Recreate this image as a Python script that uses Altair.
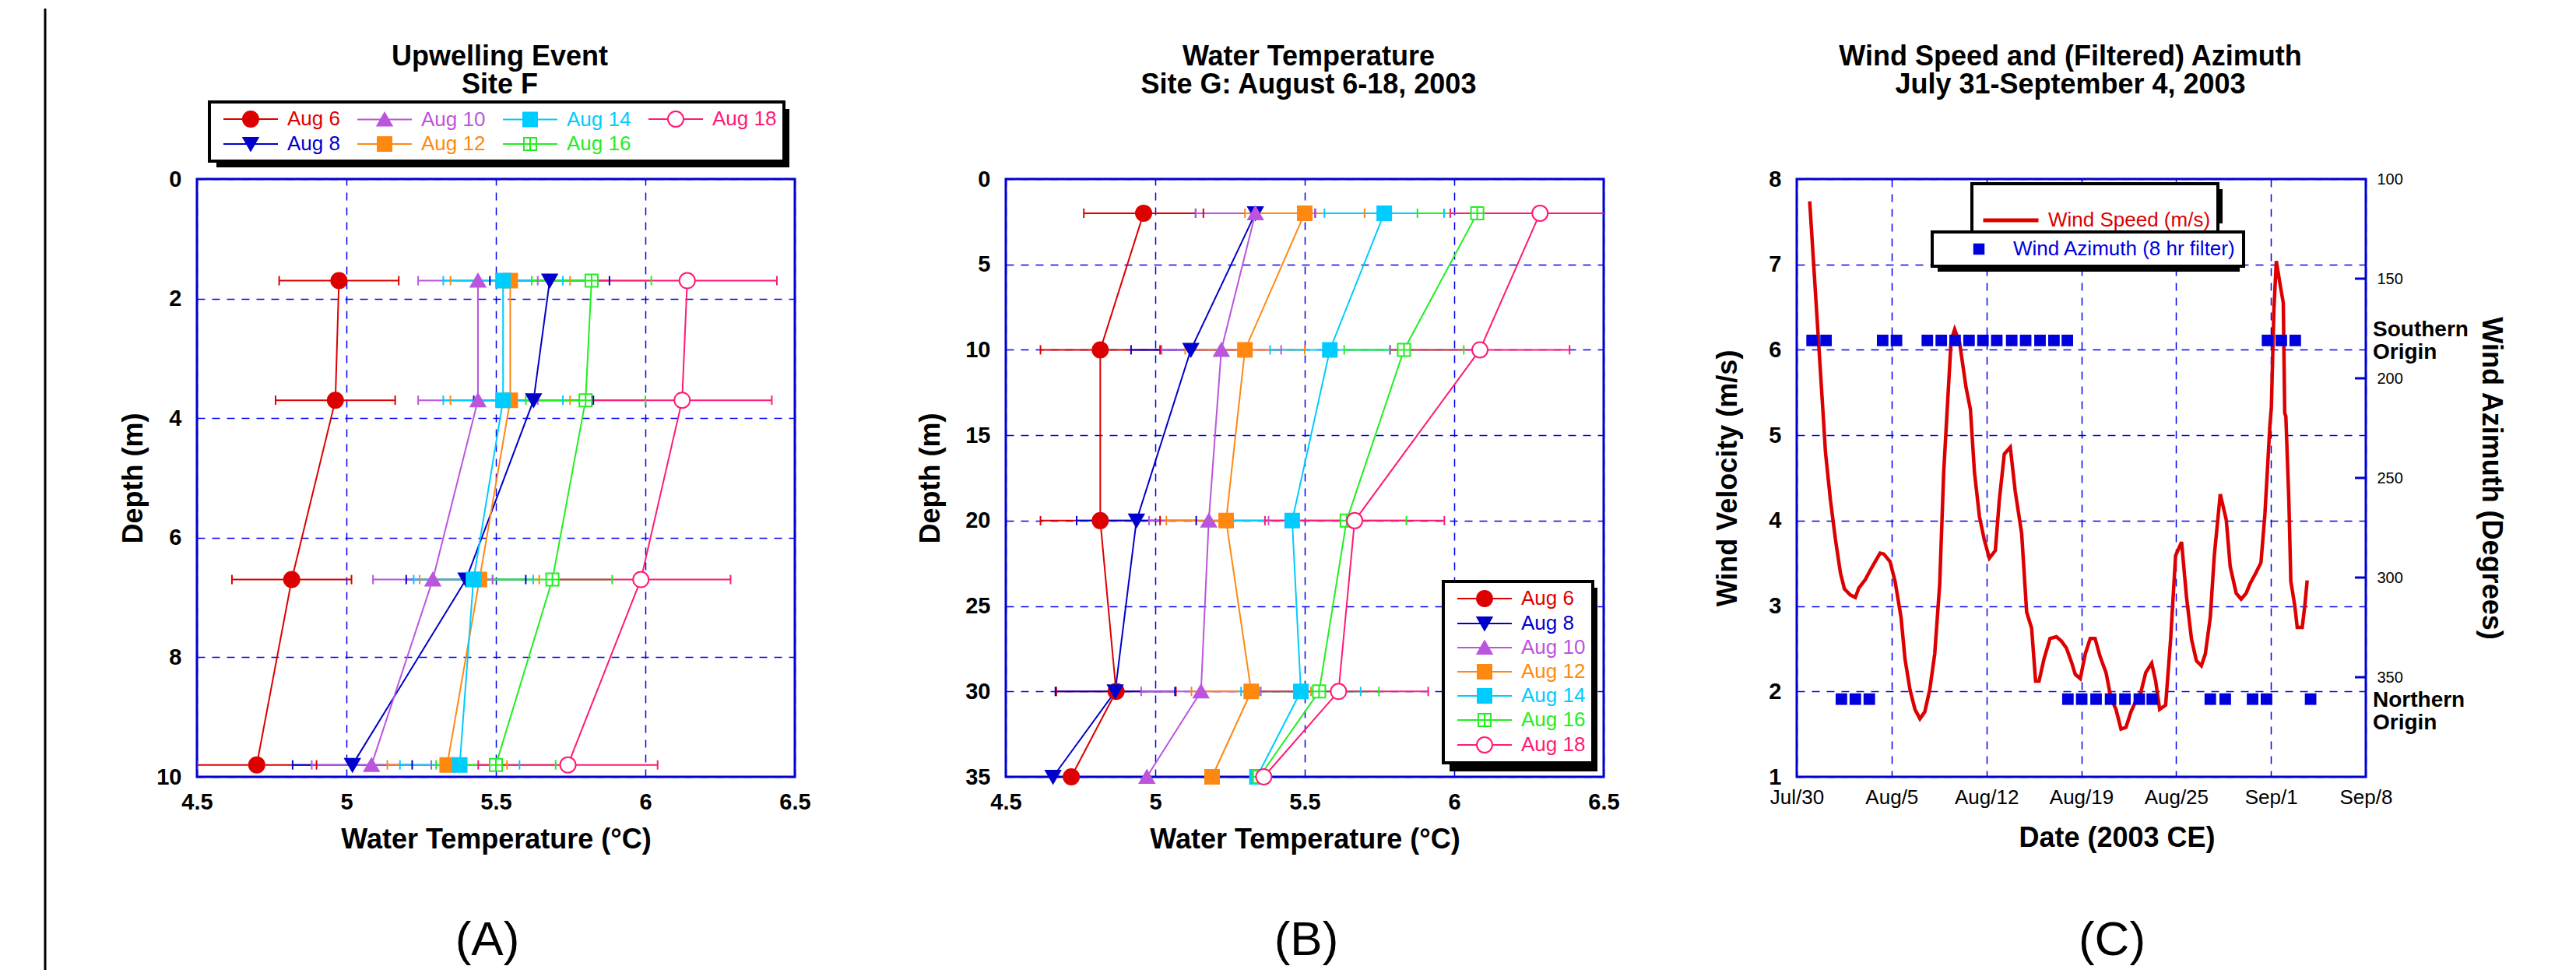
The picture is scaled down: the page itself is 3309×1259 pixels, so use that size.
import json
import altair as alt
import pandas as pd

FONT = "Liberation Sans, Arial, Helvetica, sans-serif"

# ---------------- series identity ----------------
dates = ["Aug 6", "Aug 8", "Aug 10", "Aug 12", "Aug 14", "Aug 16", "Aug 18"]
series_colors = ["#dd0000", "#0000cc", "#bb55dd", "#ff8811", "#00ccff", "#22ee22", "#ff1a75"]
series_fills = ["#dd0000", "#0000cc", "#bb55dd", "#ff8811", "#00ccff", "#ffffff", "#ffffff"]
series_err = [0.2, 0.2, 0.2, 0.2, 0.2, 0.2, 0.3]
marker_paths = [
    "circle",
    "M-0.95,-0.8H0.95L0,0.85Z",
    "M0,-0.85L0.95,0.8H-0.95Z",
    "M-0.9,-0.9H0.9V0.9H-0.9Z",
    "M-0.9,-0.9H0.9V0.9H-0.9Z",
    "M-0.8,-0.8H0.8V0.8H-0.8ZM0,-0.8V0.8M-0.8,0H0.8",
    "circle",
]
legend_paths = [
    "M-3.5,0H-1M1,0H3.5M1,0A1,1,0,1,1,-1,0A1,1,0,1,1,1,0Z",
    "M-3.5,0H3.5M-0.95,-0.8H0.95L0,0.85Z",
    "M-3.5,0H3.5M0,-0.85L0.95,0.8H-0.95Z",
    "M-3.5,0H3.5M-0.9,-0.9H0.9V0.9H-0.9Z",
    "M-3.5,0H3.5M-0.9,-0.9H0.9V0.9H-0.9Z",
    "M-3.5,0H-0.8M0.8,0H3.5M-0.8,-0.8H0.8V0.8H-0.8ZM0,-0.8V0.8M-0.8,0H0.8",
    "M-3.5,0H-1M1,0H3.5M1,0A1,1,0,1,1,-1,0A1,1,0,1,1,1,0Z",
]

# ---------------- Panel A : Site F ----------------
depth_A = [1.7, 3.7, 6.7, 9.8]
A_aug6 = [4.975, 4.963, 4.817, 4.70]
A_aug8 = [5.68, 5.626, 5.40, 5.02]
A_aug10 = [5.44, 5.44, 5.289, 5.084]
A_aug12 = [5.548, 5.548, 5.445, 5.337]
A_aug14 = [5.524, 5.524, 5.425, 5.379]
A_aug16 = [5.82, 5.80, 5.689, 5.50]
A_aug18 = [6.14, 6.123, 5.985, 5.741]
legend_order_A = ["Aug 6", "Aug 10", "Aug 14", "Aug 18", "Aug 8", "Aug 12", "Aug 16"]

# ---------------- Panel B : Site G ----------------
depth_B = [2, 10, 20, 30, 35]
B_aug6 = [4.961, 4.816, 4.816, 4.869, 4.719]
B_aug8 = [5.335, 5.119, 4.937, 4.866, 4.658]
B_aug10 = [5.335, 5.221, 5.179, 5.153, 4.972]
B_aug12 = [5.50, 5.30, 5.237, 5.321, 5.19]
B_aug14 = [5.766, 5.584, 5.458, 5.487, 5.34]
B_aug16 = [6.077, 5.832, 5.64, 5.548, 5.348]
B_aug18 = [6.287, 6.086, 5.667, 5.613, 5.363]
errbar_max_depth_B = 30

temp_ticks = [4.5, 5, 5.5, 6, 6.5]
depth_ticks_A = [0, 2, 4, 6, 8, 10]
depth_ticks_B = [0, 5, 10, 15, 20, 25, 30, 35]

# ---------------- Panel C : wind ----------------
wind_day = [0.91, 1.85, 2.02, 2.37, 2.72, 3.07, 3.35, 3.77, 4.12, 4.36, 4.82, 5.17, 5.51, 5.86,
            6.11, 6.56, 6.91, 7.33, 7.61, 7.96, 8.31, 8.66, 9.00, 9.35, 9.70, 10.05, 10.33,
            10.85, 11.10, 11.45, 11.90, 12.21, 12.49, 12.84, 13.19, 13.54, 13.96, 14.24, 14.59,
            15.01, 15.36, 15.81, 16.16, 16.51, 16.79, 17.03, 17.38, 17.80, 18.25, 18.60, 18.95,
            19.30, 19.58, 19.93, 20.28, 20.63, 20.97, 21.32, 21.74, 22.09, 22.44, 22.79, 23.14,
            23.49, 23.84, 24.19, 24.53, 24.95, 25.23, 25.51, 25.93, 26.28, 26.63, 27.05, 27.40,
            27.75, 28.09, 28.44, 28.72, 29.07, 29.35, 29.77, 30.19, 30.47, 30.89, 31.24, 31.59,
            31.86, 32.28, 32.63, 32.91, 33.26, 33.36, 33.54, 33.71, 33.96, 34.20, 34.30, 34.38,
            34.59, 34.73, 35.01, 35.18, 35.53, 35.71, 35.88]
wind_speed = [7.74, 5.26, 4.80, 4.24, 3.78, 3.39, 3.20, 3.13, 3.10, 3.21, 3.31, 3.42, 3.52, 3.62,
              3.61, 3.52, 3.29, 2.87, 2.38, 2.02, 1.79, 1.68, 1.76, 2.02, 2.44, 3.26, 4.57,
              6.11, 6.24, 6.08, 5.56, 5.30, 4.57, 4.05, 3.77, 3.56, 3.65, 4.24, 4.78,
              4.86, 4.34, 3.85, 2.93, 2.74, 2.12, 2.12, 2.38, 2.62, 2.64, 2.59, 2.51,
              2.35, 2.20, 2.15, 2.44, 2.62, 2.62, 2.41, 2.22, 1.92, 1.79, 1.56, 1.58,
              1.76, 1.89, 1.99, 2.22, 2.33, 2.12, 1.79, 1.84, 2.61, 3.59, 3.75, 3.10,
              2.61, 2.36, 2.30, 2.44, 2.87, 3.59, 4.31, 4.01, 3.46, 3.15, 3.08, 3.15,
              3.26, 3.39, 3.51, 4.08, 5.12, 5.32, 6.47, 7.04, 6.78, 6.55, 5.26, 5.22,
              4.24, 3.29, 3.00, 2.75, 2.75, 3.00, 3.30]
az_day = [1.08, 2.06, 6.04, 7.01, 9.18, 10.16, 11.13, 12.11, 13.09, 14.06, 15.11, 16.09, 17.10,
          18.08, 19.02, 33.09, 34.06, 35.04,
          3.14, 4.12, 5.10, 19.06, 20.03, 21.04, 22.06, 23.07, 24.08, 24.99, 29.07, 30.12,
          32.04, 33.02, 36.12]
az_deg = [181, 181, 181, 181, 181, 181, 181, 181, 181, 181, 181, 181, 181,
          181, 181, 181, 181, 181,
          361, 361, 361, 361, 361, 361, 361, 361, 361, 361, 361, 361,
          361, 361, 361]
date_tick_days = [0, 6.667, 13.333, 20, 26.667, 33.333, 40]
date_tick_labels = ["Jul/30", "Aug/5", "Aug/12", "Aug/19", "Aug/25", "Sep/1", "Sep/8"]
speed_ticks = [1, 2, 3, 4, 5, 6, 7, 8]
az_ticks = [100, 150, 200, 250, 300, 350]
az_inner_ticks = [150, 200, 250, 300, 350]
origin_labels = ["Southern\nOrigin", "Northern\nOrigin"]
origin_label_deg = [179, 365]
speed_name = "Wind Speed (m/s)"
az_name = "Wind Azimuth (8 hr filter)"

titles = {
    "A": ["Upwelling Event", "Site F"],
    "B": ["Water Temperature", "Site G: August 6-18, 2003"],
    "C": ["Wind Speed and (Filtered) Azimuth", "July 31-September 4, 2003"],
}

W, H, WC = 768, 768, 731
BLUE = "#0000cc"
ONE = alt.Data(values=[{}])


def lookup_expr(values):
    return "%s[indexof(%s, datum.value)]" % (json.dumps(values), json.dumps(dates))


def profile_df(depths, series_vals):
    rows = []
    for name, vals, e in zip(dates, series_vals, series_err):
        for d, t in zip(depths, vals):
            rows.append({"date": name, "depth": d, "temp": t,
                         "lo": round(t - e, 4), "hi": round(t + e, 4)})
    return pd.DataFrame(rows)


def text_mark(text, x, y, size, weight="bold", align="center", baseline="alphabetic"):
    return alt.Chart(ONE).mark_text(
        text=text, font=FONT, fontSize=size, fontWeight=weight, align=align,
        baseline=baseline, lineHeight=size, color="black"
    ).encode(x=alt.value(x), y=alt.value(y))


def shadow(x0, y0, x1, y1):
    return alt.Chart(ONE).mark_rect(color="black").encode(
        x=alt.value(x0), x2=alt.value(x1), y=alt.value(y0), y2=alt.value(y1))


def series_legend(x, y, columns):
    if columns > 1:
        kw = dict(columns=columns, direction="horizontal", columnPadding=13)
    else:
        kw = dict(direction="vertical")
    return alt.Legend(
        title=None, orient="none", legendX=x, legendY=y,
        symbolType=alt.ExprRef(expr=lookup_expr(legend_paths)),
        symbolStrokeColor=alt.ExprRef(expr=lookup_expr(series_colors)),
        symbolSize=400, symbolStrokeWidth=2, symbolOffset=31, labelOffset=34,
        labelColor=alt.ExprRef(expr=lookup_expr(series_colors)), labelLimit=300,
        labelFontSize=26, labelFont=FONT, padding=9, rowPadding=5, **kw)


def profile_panel(df, ydom, yticks, order, legend, ytitle_pad, title_lines, label, label_x,
                  shadow_box, err_max_depth=None, extra=()):
    xs = alt.Scale(domain=[4.5, 6.5], nice=False, zero=False)
    ys = alt.Scale(domain=ydom, reverse=True, nice=False, zero=False)
    xax = alt.Axis(values=temp_ticks, format="~g", title="Water Temperature (°C)",
                   labelFontSize=29, labelFontWeight="bold", labelPadding=18,
                   labelFlush=False, labelOverlap=False, titleFontSize=36,
                   titleFontWeight="bold", titlePadding=16, grid=True)
    yax = alt.Axis(values=yticks, format="d", title="Depth (m)", labelFontSize=29,
                   labelFontWeight="bold", labelPadding=20, labelFlush=False,
                   labelOverlap=False, titleFontSize=36, titleFontWeight="bold",
                   titlePadding=ytitle_pad, grid=True)
    st = alt.Stroke("date:N", scale=alt.Scale(domain=order, range=[series_colors[dates.index(d)] for d in order]),
                    legend=legend)
    fi = alt.Fill("date:N", scale=alt.Scale(domain=order, range=[series_fills[dates.index(d)] for d in order]),
                  legend=legend)
    base = alt.Chart(df)
    ebase = base if err_max_depth is None else base.transform_filter(alt.datum.depth <= err_max_depth)
    bars = ebase.mark_rule(strokeWidth=2, clip=True).encode(
        x=alt.X("lo:Q", scale=xs, axis=xax), x2="hi:Q",
        y=alt.Y("depth:Q", scale=ys, axis=yax), stroke=st)
    cap_lo = ebase.mark_rule(strokeWidth=2, clip=True, yOffset=-6, y2Offset=6).encode(
        x=alt.X("lo:Q", scale=xs, axis=xax), y=alt.Y("depth:Q", scale=ys, axis=yax),
        y2="depth:Q", stroke=st)
    cap_hi = ebase.mark_rule(strokeWidth=2, clip=True, yOffset=-6, y2Offset=6).encode(
        x=alt.X("hi:Q", scale=xs, axis=xax), y=alt.Y("depth:Q", scale=ys, axis=yax),
        y2="depth:Q", stroke=st)
    lines = base.mark_line(strokeWidth=2).encode(
        x=alt.X("temp:Q", scale=xs, axis=xax), y=alt.Y("depth:Q", scale=ys, axis=yax),
        stroke=st, order=alt.Order("depth:Q"))
    pts = []
    for name, path in zip(dates, marker_paths):
        pts.append(base.transform_filter(alt.datum.date == name).mark_point(
            shape=path, size=400, filled=True, opacity=1, strokeWidth=2).encode(
            x=alt.X("temp:Q", scale=xs, axis=xax), y=alt.Y("depth:Q", scale=ys, axis=yax),
            stroke=st, fill=fi))
    extras = [
        shadow(*shadow_box),
        text_mark(title_lines, W / 2 + 5, -146, 36),
        text_mark(label, label_x, 978, 62, weight="normal", baseline="middle"),
    ] + list(extra)
    return alt.layer(bars, cap_lo, cap_hi, lines, *pts, *extras).properties(width=W, height=H)


dfA = profile_df(depth_A, [A_aug6, A_aug8, A_aug10, A_aug12, A_aug14, A_aug16, A_aug18])
dfB = profile_df(depth_B, [B_aug6, B_aug8, B_aug10, B_aug12, B_aug14, B_aug16, B_aug18])

frame_line = alt.Chart(ONE).mark_rule(color="black", strokeWidth=3).encode(
    x=alt.value(-195), y=alt.value(-219), y2=alt.value(1016))
panelA = profile_panel(dfA, [0, 10], depth_ticks_A, legend_order_A, series_legend(16, -99, 4),
                       10, titles["A"], "(A)", 373, (25, -90, 761, -15), extra=[frame_line])

# invisible spacer keeping the gap between panels (A) and (B) as in the original layout
spacerB = alt.Chart(ONE).mark_rule(opacity=0).encode(
    x=alt.value(-129), y=alt.value(300), y2=alt.value(310))
panelB = profile_panel(dfB, [0, 35], depth_ticks_B, dates, series_legend(562, 517, 1),
                       25, titles["B"], "(B)", 386, (570, 525, 760, 761),
                       err_max_depth=errbar_max_depth_B, extra=[spacerB])

# ---------------- Panel C ----------------
dfW = pd.DataFrame({"day": wind_day, "speed": wind_speed, "series": speed_name})
dfZ = pd.DataFrame({"day": az_day, "deg": az_deg, "series": az_name})
dfT = pd.DataFrame({"deg": az_inner_ticks})
dfO = pd.DataFrame({"deg": origin_label_deg, "label": origin_labels})

xsC = alt.Scale(domain=[0, 40], nice=False, zero=False)
date_axis = alt.Axis(values=date_tick_days,
                     labelExpr="%s[round(datum.value * 6 / 40)]" % json.dumps(date_tick_labels),
                     title="Date (2003 CE)", labelFontSize=26, labelFontWeight="normal",
                     labelPadding=13, labelFlush=False, labelOverlap=False, titleFontSize=36,
                     titleFontWeight="bold", titlePadding=22, titleX=411, grid=True)
speed_axis = alt.Axis(values=speed_ticks, title="Wind Velocity (m/s)", labelFontSize=29,
                      labelFontWeight="bold", labelPadding=20, labelFlush=False,
                      labelOverlap=False, titleFontSize=36, titleFontWeight="bold",
                      titlePadding=33, grid=True)
az_scale = alt.Scale(domain=[100, 400], reverse=True, nice=False, zero=False)
az_axis = alt.Axis(orient="right", values=az_ticks, title="Wind Azimuth (Degrees)",
                   labelFontSize=20, labelFontWeight="normal", labelPadding=14,
                   labelFlush=False, labelOverlap=False, titleFontSize=36,
                   titleFontWeight="bold", titlePadding=94, grid=False)

legC1 = alt.Legend(title=None, orient="none", legendX=225, legendY=6, symbolType="stroke",
                   symbolSize=5041, symbolStrokeWidth=5, labelColor="#dd0000", labelFontSize=26,
                   padding=9, symbolOffset=3, labelOffset=10, labelLimit=400)
legC2 = alt.Legend(title=None, orient="none", legendX=174, legendY=68, symbolType="square",
                   symbolSize=210, labelColor="#0000dd", labelFontSize=26, padding=9,
                   symbolOffset=38, labelOffset=31, labelLimit=400)

wind_line = alt.Chart(dfW).mark_line(strokeWidth=4.5, clip=True).encode(
    x=alt.X("day:Q", scale=xsC, axis=date_axis),
    y=alt.Y("speed:Q", scale=alt.Scale(domain=[1, 8], nice=False, zero=False), axis=speed_axis),
    stroke=alt.Stroke("series:N", scale=alt.Scale(domain=[speed_name], range=["#dd0000"]), legend=legC1))

az_pts = alt.Chart(dfZ).mark_square(size=220, opacity=1).encode(
    x=alt.X("day:Q", scale=xsC, axis=date_axis),
    y=alt.Y("deg:Q", scale=az_scale, axis=az_axis),
    fill=alt.Fill("series:N", scale=alt.Scale(domain=[az_name], range=["#0000dd"]), legend=legC2))
az_tk = alt.Chart(dfT).mark_rule(color=BLUE, strokeWidth=3).encode(
    x=alt.value(WC - 14), x2=alt.value(WC), y=alt.Y("deg:Q", scale=az_scale, axis=az_axis))
az_txt = alt.Chart(dfO).mark_text(font=FONT, fontSize=28, fontWeight="bold", align="left",
                                  baseline="alphabetic", lineBreak="\n", lineHeight=29,
                                  color="black").encode(
    x=alt.value(WC + 9), y=alt.Y("deg:Q", scale=az_scale, axis=az_axis), text="label:N")
az_layer = alt.layer(az_pts, az_tk, az_txt)

panelC = alt.layer(
    wind_line, az_layer,
    shadow(232, 13, 547, 57), shadow(181, 75, 569, 119),
    text_mark(titles["C"], WC / 2 - 14, -146, 36),
    text_mark("(C)", 405, 978, 62, weight="normal", baseline="middle"),
).resolve_scale(y="independent").properties(width=WC, height=H)

chart = alt.hconcat(panelA, panelB, panelC, spacing=118).resolve_scale(
    stroke="independent", fill="independent"
).resolve_legend(
    stroke="independent", fill="independent"
).properties(
    padding={"left": 47, "top": 0, "right": 30, "bottom": 0}
).configure_view(stroke=BLUE, strokeWidth=3).configure_axis(
    domain=False, ticks=False, gridColor="#0000ee", gridDash=[10, 9], gridWidth=1.5,
    labelFont=FONT, titleFont=FONT, labelColor="black", titleColor="black"
).configure_legend(strokeColor="black", strokeWidth=4, fillColor="white", labelFont=FONT)

chart.save("out.html", embed_options={"renderer": "svg", "actions": False})
